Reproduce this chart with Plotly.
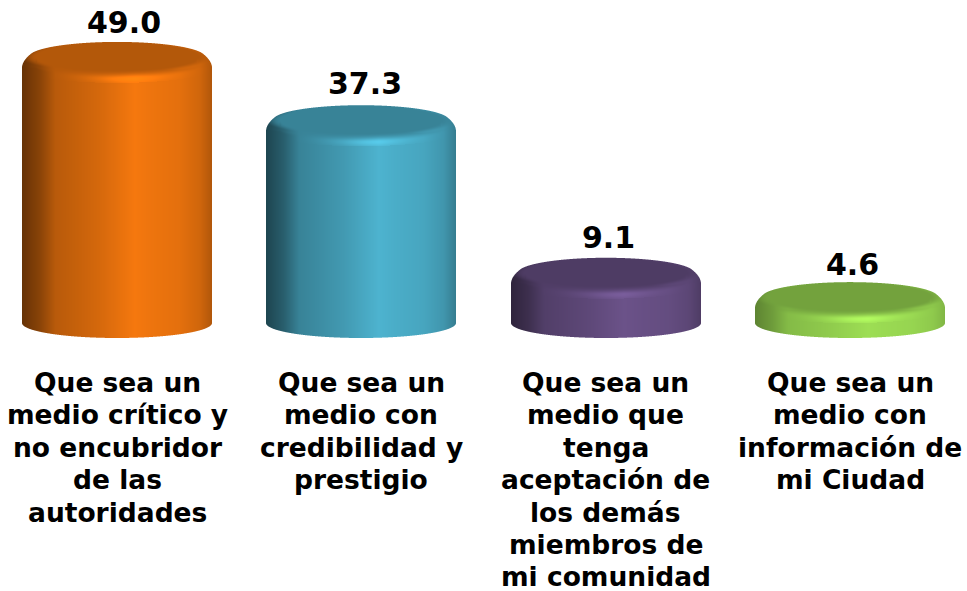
import numpy as np
import plotly.graph_objects as go

categories = [
    "Que sea un<br>medio crítico y<br>no encubridor<br>de las<br>autoridades",
    "Que sea un<br>medio con<br>credibilidad y<br>prestigio",
    "Que sea un<br>medio que<br>tenga<br>aceptación de<br>los demás<br>miembros de<br>mi comunidad",
    "Que sea un<br>medio con<br>información de<br>mi Ciudad",
]
values = [49.0, 37.3, 9.1, 4.6]
value_labels = ["49.0", "37.3", "9.1", "4.6"]
bright_colors = [(245, 120, 14), (77, 179, 207), (107, 82, 137), (157, 222, 84)]
shade_gamma = [1.0, 1.1, 0.95, 0.6]
label_dx_px = [7, 3.5, 3, 2]
label_dy_px = [2, 4, 3, 0]

W, H = 967, 591
PLOT_BOTTOM = 345
ZERO_PX = 322.0
BASE_PX = 323.0
PX_PER_VALUE = 5.41
CENTER_PX = 117.0
PX_PER_CAT = 244.4
A, B = 95.0, 15.0        # cylinder ellipse half axes, in pixels
BEVEL = 11.0
IA, IB = 80.0, 13.0      # flat top ellipse half axes
LABEL_FIRST_PX = 382.5
LABEL_PITCH = 32.4

prof_u = [-1.0, -0.97, -0.81, -0.65, -0.18, 0.19, 0.35, 0.66, 0.87, 0.98, 1.0]
prof_m = [0.42, 0.44, 0.56, 0.75, 0.87, 1.0, 0.97, 0.93, 0.85, 0.74, 0.72]


def smooth(t):
    t = np.clip(t, 0, 1)
    return t * t * (3 - 2 * t)


def cylinder_image(height_px, bright, gamma):
    """RGBA pixels of one cylinder; rows run bottom to top."""
    cy = ZERO_PX - height_px
    nx = int(2 * A + 6)
    y_top = int(np.floor(cy - B - 3))
    y_bot = int(np.ceil(BASE_PX + B + 3))
    ny = y_bot - y_top
    xs = np.arange(nx) + 0.5 - nx / 2
    ys = np.arange(ny) + 0.5 + y_top

    def inside(dx, y):
        m = np.zeros_like(dx, dtype=bool)
        for d in np.linspace(0, BEVEL, 12):
            a = A - 7.0 * (1 - d / BEVEL) ** 2
            m |= (dx / a) ** 2 + ((y - cy - d) / B) ** 2 <= 1
        m |= (np.abs(dx) <= A) & (y >= cy + BEVEL) & (y <= BASE_PX)
        m |= (dx / A) ** 2 + ((y - BASE_PX) / B) ** 2 <= 1
        return m

    sub = (np.arange(4) + 0.5) / 4 - 0.5
    alpha = np.zeros((ny, nx))
    for sy in sub:
        for sx in sub:
            dxg, yg = np.meshgrid(xs + sx, ys + sy)
            alpha += inside(dxg, yg)
    alpha /= 16

    dx, y = np.meshgrid(xs, ys)
    u = np.clip(dx / A, -1, 1)
    body = np.interp(u, prof_u, prof_m) ** gamma
    flat = 0.73

    # lower edge of the flat top and of the bevel, per column
    yi = cy + IB * np.sqrt(np.clip(1 - (dx / IA) ** 2, 0, 1))
    yo = cy + BEVEL + B * np.sqrt(np.clip(1 - u ** 2, 0, 1))
    front = np.where(y > cy, smooth((y - yi) / np.maximum(yo - yi, 1) * 1.5), 0)
    R = np.sqrt((dx / IA) ** 2 + ((y - cy) / IB) ** 2)
    rim = smooth((R - 1) / 0.22) * smooth((np.abs(dx) - 25) / 70)
    w = np.maximum(front, rim)
    w = np.where(R <= 1, 0, w)
    # light streak along the front of the bevel
    streak = 0.14 * np.exp(-((y - (yo - 4)) / 4.0) ** 2) * np.exp(-((u - 0.1) / 0.4) ** 2)
    lit = body + streak
    m = flat * (1 - w) + lit * w
    m = np.where(y >= yo, body, m)

    rgb = np.stack([np.clip(m * c, 0, 255) for c in bright], axis=-1)
    rgba = np.concatenate([rgb.round(), alpha[..., None]], axis=-1)
    return rgba[::-1], y_bot - 0.5, nx


fig = go.Figure()
dx_val = 1 / PX_PER_CAT
dy_val = 1 / PX_PER_VALUE
for i, v in enumerate(values):
    img, y_first_px, nx = cylinder_image(v * PX_PER_VALUE, bright_colors[i], shade_gamma[i])
    fig.add_trace(go.Image(
        z=img.tolist(), colormodel="rgba",
        x0=i - (nx / 2 - 0.5) * dx_val, dx=dx_val,
        y0=(ZERO_PX - y_first_px) * dy_val, dy=dy_val,
        hoverinfo="skip",
    ))

fig.add_trace(go.Bar(
    x=list(range(len(values))), y=values,
    width=2 * A / PX_PER_CAT,
    marker=dict(color="rgba(0,0,0,0)", line=dict(width=0)),
    hovertext=value_labels, hoverinfo="text", showlegend=False,
))

for i, (v, t) in enumerate(zip(values, value_labels)):
    fig.add_annotation(
        x=i, y=v, text=f"<b>{t}</b>", showarrow=False, yanchor="bottom",
        xshift=label_dx_px[i], yshift=B - 2 + label_dy_px[i],
        font=dict(family="DejaVu Sans", size=30, color="black"),
    )

for i, cat in enumerate(categories):
    for j, line in enumerate(cat.split("<br>")):
        fig.add_annotation(
            x=i, xref="x", yref="paper", y=0, yanchor="middle",
            yshift=-(LABEL_FIRST_PX + j * LABEL_PITCH - PLOT_BOTTOM),
            text=f"<b>{line}</b>", showarrow=False,
            font=dict(family="DejaVu Sans", size=26.5, color="black"),
        )

fig.update_layout(
    width=W, height=H, autosize=False,
    margin=dict(l=0, r=0, t=0, b=H - PLOT_BOTTOM, pad=0),
    paper_bgcolor="white", plot_bgcolor="white", showlegend=False,
    xaxis=dict(
        range=[(0 - CENTER_PX) / PX_PER_CAT, (W - CENTER_PX) / PX_PER_CAT],
        visible=False, showgrid=False, zeroline=False,
        scaleanchor=False, constrain="range", automargin=False,
    ),
    yaxis=dict(
        range=[(ZERO_PX - PLOT_BOTTOM) / PX_PER_VALUE, ZERO_PX / PX_PER_VALUE],
        visible=False, showgrid=False, zeroline=False, automargin=False,
        scaleanchor=False, constrain="range",
    ),
)
fig.write_html("out.html", config=dict(displayModeBar=False),
               post_script="document.body.style.margin='0';document.body.style.overflow='hidden';")
